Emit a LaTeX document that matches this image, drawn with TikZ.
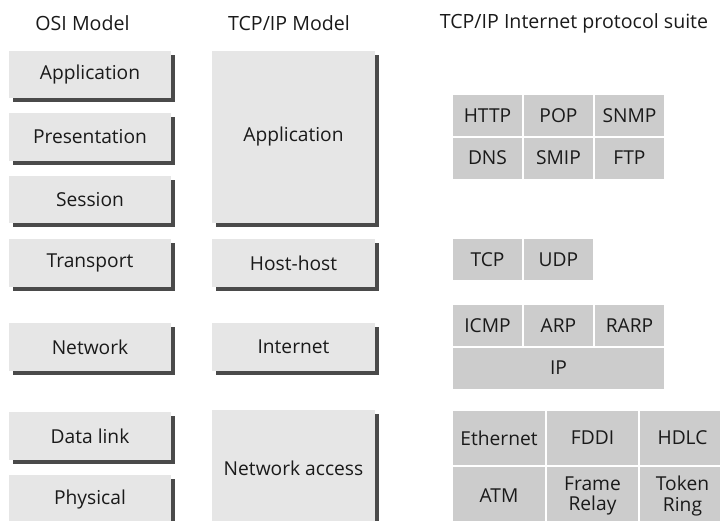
\documentclass[tikz,border=0pt]{standalone}
\usepackage{fontspec}
\setmainfont{Open Sans}
\usetikzlibrary{shadows}
\definecolor{layerfill}{HTML}{E6E6E6}
\definecolor{layershadow}{HTML}{4A4A4A}
\definecolor{cellfill}{HTML}{CCCCCC}
\definecolor{inkgray}{HTML}{1A1A1A}
\begin{document}
\begin{tikzpicture}[x=1pt,y=-1pt,
  every node/.style={font=\fontsize{19.2}{21}\selectfont, text=inkgray,
    inner sep=0pt, outer sep=0pt, anchor=north west},
  heading/.style={font=\fontsize{19.6}{22}\selectfont},
  layer/.style={fill=layerfill,
    general shadow={fill=layershadow, shadow xshift=4pt, shadow yshift=-4pt}},
  cell/.style={fill=cellfill, align=center}]
\useasboundingbox (0,0) rectangle (720,520);
\clip (0,0) rectangle (720,520);

% column headings
\node[heading, anchor=center] (hosi) at (82.5,23) {OSI Model};
\node[heading, anchor=center] (htcp) at (289,23) {TCP/IP Model};
\node[heading, anchor=center] (hsuite) at (574,23) {TCP/IP Internet protocol suite};

% OSI reference model layers
\node[layer, minimum width=162pt, minimum height=47pt] (osi7) at (9,51) {Application};
\node[layer, minimum width=162pt, minimum height=48pt] (osi6) at (9,113) {Presentation};
\node[layer, minimum width=162pt, minimum height=47pt] (osi5) at (9,176) {Session};
\node[layer, minimum width=162pt, minimum height=48pt] (osi4) at (9,239) {Transport};
\node[layer, minimum width=162pt, minimum height=48pt] (osi3) at (9,323) {Network};
\node[layer, minimum width=162pt, minimum height=48pt] (osi2) at (9,412) {Data link};
\node[layer, minimum width=162pt, minimum height=50pt] (osi1) at (9,475) {Physical};

% TCP/IP model layers
\node[layer, minimum width=163pt, minimum height=172pt] (tapp) at (212,51) {Application};
\node[layer, minimum width=163pt, minimum height=48pt] (thost) at (212,239) {Host-host};
\node[layer, minimum width=163pt, minimum height=48pt] (tnet) at (212,323) {Internet};
\node[layer, minimum width=163pt, minimum height=116pt] (tacc) at (212,410) {Network access};

% application protocols
\node[cell, minimum width=69pt, minimum height=41pt] (http) at (453,95) {HTTP};
\node[cell, minimum width=69pt, minimum height=41pt] (pop) at (524,95) {POP};
\node[cell, minimum width=69pt, minimum height=41pt] (snmp) at (595,95) {SNMP};
\node[cell, minimum width=69pt, minimum height=41pt] (dns) at (453,137.5) {DNS};
\node[cell, minimum width=69pt, minimum height=41pt] (smip) at (524,137.5) {SMIP};
\node[cell, minimum width=69pt, minimum height=41pt] (ftp) at (595,137.5) {FTP};

% transport protocols
\node[cell, minimum width=69pt, minimum height=41pt] (tcp) at (453,239) {TCP};
\node[cell, minimum width=69pt, minimum height=41pt] (udp) at (524,239) {UDP};

% internet protocols
\node[cell, minimum width=69pt, minimum height=41pt] (icmp) at (453,305) {ICMP};
\node[cell, minimum width=69pt, minimum height=41pt] (arp) at (524,305) {ARP};
\node[cell, minimum width=69pt, minimum height=41pt] (rarp) at (595,305) {RARP};
\node[cell, minimum width=211pt, minimum height=41pt] (ip) at (453,347.5) {IP};

% network access protocols
\node[cell, minimum width=92pt, minimum height=54pt] (eth) at (453,411) {Ethernet};
\node[cell, minimum width=91pt, minimum height=54pt] (fddi) at (547,411) {FDDI};
\node[cell, minimum width=85pt, minimum height=54pt] (hdlc) at (640,411) {HDLC};
\node[cell, minimum width=92pt, minimum height=58pt] (atm) at (453,467) {ATM};
\node[cell, minimum width=91pt, minimum height=58pt, font=\fontsize{19.2}{20.5}\selectfont] (frelay) at (547,467) {Frame\\Relay};
\node[cell, minimum width=85pt, minimum height=58pt, font=\fontsize{19.2}{20.5}\selectfont] (tring) at (640,467) {Token\\Ring};
\end{tikzpicture}
\end{document}
